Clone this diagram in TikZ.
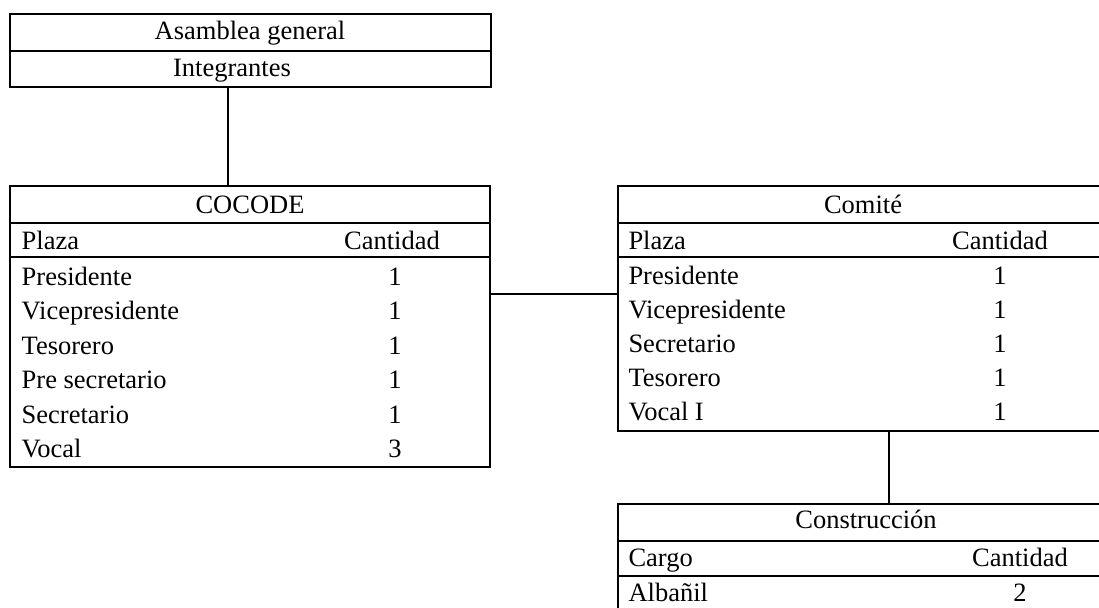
\documentclass[tikz,border=0pt]{standalone}
\usepackage{fontspec}
\setmainfont{Liberation Serif}
\begin{document}
\begin{tikzpicture}[x=1pt,y=-1pt,
  frame/.style={draw=black,line width=2pt,inner sep=0pt,outer sep=0pt,rectangle},
  rule/.style={draw=black,line width=2pt},
  conn/.style={draw=black,line width=2pt},
  txt/.style={inner sep=0pt,outer sep=0pt,anchor=base,font=\fontsize{26.5}{30}\selectfont},
  ltxt/.style={txt,anchor=base west}]
\useasboundingbox[fill=white] (0,0) rectangle (1099,607);

% Asamblea general
\node[frame,minimum width=480.7pt,minimum height=72.7pt] (asam) at (250.35,50.35) {};
\draw[rule] (asam.west |- 0,50.7) -- (asam.east |- 0,50.7);
\node[txt] (asamT) at (250,40) {Asamblea general};
\node[txt] (asamI) at (232,76.8) {Integrantes};

% COCODE
\node[frame,minimum width=480pt,minimum height=281pt] (cocode) at (250,326.2) {};
\draw[rule] (cocode.west |- 0,222.7) -- (cocode.east |- 0,222.7);
\draw[rule] (cocode.west |- 0,257.3) -- (cocode.east |- 0,257.3);
\node[txt] (cocodeT) at (250,213.3) {COCODE};
\node[ltxt] (cP) at (21.7,249.3) {Plaza};
\node[txt] (cC) at (392,249.3) {Cantidad};
\foreach \n/\lab/\v in {0/Presidente/1,1/Vicepresidente/1,2/Tesorero/1,3/Pre secretario/1,4/Secretario/1,5/Vocal/3}{
  \node[ltxt] (cr\n) at (21.7,285+34.5*\n) {\lab};
  \node[txt] (cv\n) at (395,285+34.5*\n) {\v};
}

% Comite
\node[frame,minimum width=492.3pt,minimum height=245.3pt] (comite) at (863.85,308.35) {};
\draw[rule] (comite.west |- 0,222.7) -- (comite.east |- 0,222.7);
\draw[rule] (comite.west |- 0,257.3) -- (comite.east |- 0,257.3);
\node[txt] (comiteT) at (863,213.3) {Comité};
\node[ltxt] (mP) at (628.5,249.3) {Plaza};
\node[txt] (mC) at (1000,249.3) {Cantidad};
\foreach \n/\lab in {0/Presidente,1/Vicepresidente,2/Secretario,3/Tesorero,4/Vocal I}{
  \node[ltxt] (mr\n) at (628.5,284+34.2*\n) {\lab};
  \node[txt] (mv\n) at (1000,284+34.2*\n) {1};
}

% Construccion
\node[frame,minimum width=492.3pt,minimum height=108pt] (constr) at (863.85,558) {};
\draw[rule] (constr.west |- 0,541) -- (constr.east |- 0,541);
\draw[rule] (constr.west |- 0,575.7) -- (constr.east |- 0,575.7);
\node[txt] (constrT) at (866,528.3) {Construcción};
\node[ltxt] (kP) at (628.5,566.7) {Cargo};
\node[txt] (kC) at (1020,566.7) {Cantidad};
\node[ltxt] (kr0) at (628.5,601) {Albañil};
\node[txt] (kv0) at (1020,601) {2};

% connectors
\draw[conn] ([xshift=-22pt]asam.south) -- ([xshift=-22pt]asam.south |- cocode.north);
\draw[conn] ([yshift=-108.3pt]cocode.north east) -- ([yshift=-108.3pt]comite.north west);
\draw[conn] ([xshift=271.3pt]comite.south west) -- ([xshift=271.3pt]constr.north west);
\end{tikzpicture}
\end{document}
